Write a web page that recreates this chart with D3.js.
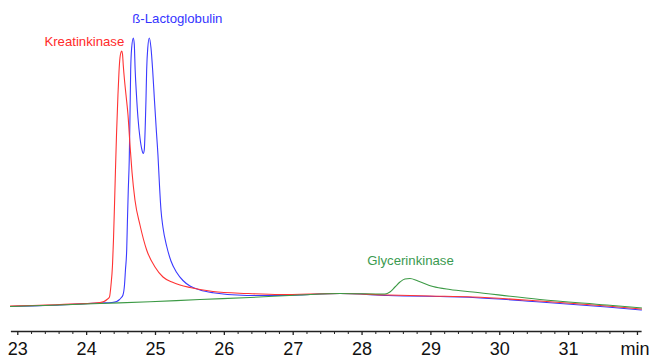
<!DOCTYPE html>
<html>
<head>
<meta charset="utf-8">
<script src="https://cdn.jsdelivr.net/npm/d3@7"></script>
<style>
  html, body { margin: 0; padding: 0; background: #fff; }
  svg { display: block; }
</style>
</head>
<body>
<svg id="chart" width="650" height="358"></svg>
<script>
// ---- data (time in min, detector signal in arbitrary units) ----
const redTime = [22.894, 23.620, 24.201, 24.259, 24.303, 24.339, 24.361, 24.383, 24.397, 24.412, 24.426, 24.441, 24.462, 24.477, 24.491, 24.516, 24.528, 24.539, 24.557, 24.579, 24.608, 24.637, 24.666, 24.709, 24.782, 24.879, 25.000, 25.116, 25.247, 25.363, 25.508, 25.842, 26.336, 26.815, 27.686, 28.383, 28.993, 29.618, 30.591, 31.564, 32.072];
const redValue = [1.6, 2.2, 3.0, 3.4, 4.2, 5.2, 10, 18, 28, 42, 56, 70, 86, 95.2, 100.8, 103.6, 102.4, 98, 92, 86, 78, 66, 55.2, 44, 34, 24, 17.2, 13.2, 11.2, 10, 9, 7.4, 6.6, 6.2, 6.6, 6.0, 5.6, 5.2, 3.6, 1.6, 0.4];

const blueTime = [22.894, 23.620, 24.201, 24.375, 24.444, 24.477, 24.506, 24.535, 24.557, 24.571, 24.589, 24.600, 24.612, 24.626, 24.637, 24.647, 24.661, 24.685, 24.699, 24.712, 24.731, 24.753, 24.782, 24.811, 24.830, 24.844, 24.859, 24.869, 24.879, 24.895, 24.917, 24.942, 24.966, 24.992, 25.019, 25.043, 25.065, 25.087, 25.116, 25.170, 25.232, 25.315, 25.406, 25.508, 25.653, 25.842, 26.336, 26.815, 27.686, 28.383, 29.618, 30.591, 31.564, 32.072];
const blueValue = [1.4, 2.0, 2.8, 3.0, 3.4, 4.0, 4.8, 6.0, 10, 16, 24, 36, 48, 60, 78, 96, 104.8, 108.8, 106.4, 96, 86, 76.8, 68.8, 64, 62.6, 64, 74, 84, 96, 104.8, 108.8, 104.8, 96, 84, 72, 62, 50, 40, 33, 25.5, 19.6, 15.0, 11.8, 9.6, 8.0, 6.9, 5.8, 5.8, 6.6, 5.8, 5.0, 3.2, 1.2, 0];

const greenTime = [22.894, 23.620, 24.201, 24.927, 25.653, 26.379, 27.105, 27.686, 28.340, 28.412, 28.485, 28.558, 28.630, 28.703, 28.819, 29.037, 29.284, 29.618, 30.591, 31.564, 32.072];
const greenValue = [1.4, 2.0, 2.6, 3.3, 4.2, 5.0, 6.0, 6.6, 6.4, 7.2, 9.2, 11.2, 12.4, 12.6, 11.6, 9.4, 8.2, 7.2, 4.2, 2.0, 0.8];

const tickValues = [23, 24, 25, 26, 27, 28, 29, 30, 31, 32];
const tickLabels = ["23", "24", "25", "26", "27", "28", "29", "30", "31", "min"];

const peakNames = ["Kreatinkinase", "ß-Lactoglobulin", "Glycerinkinase"];
const peakLabelTime = [24.554, 24.670, 28.083];
const peakLabelValue = [105.6, 114.7, 18];
const peakLabelAnchor = ["end", "start", "start"];

// ---- drawing ----
const svg = d3.select("#chart");
const x = d3.scaleLinear().domain([22.9, 32.06]).range([10.4, 641.1]);
const y = d3.scaleLinear().domain([0, 110]).range([310, 35]);
const axisY = 331;

const series = [
  { t: blueTime, v: blueValue, color: "#3a3aff" },
  { t: redTime, v: redValue, color: "#ff3333" },
  { t: greenTime, v: greenValue, color: "#3c9a45" }
];

const line = d3.line()
  .x(d => x(d[0]))
  .y(d => y(d[1]))
  .curve(d3.curveMonotoneX);

series.forEach(s => {
  svg.append("path")
    .datum(s.t.map((t, i) => [t, s.v[i]]))
    .attr("fill", "none")
    .attr("stroke", s.color)
    .attr("stroke-width", 1.1)
    .attr("stroke-linejoin", "round")
    .attr("d", line);
});

// minor ticks
const minorTicks = d3.range(23, 32.001, 0.2).filter(v => Math.abs(v - Math.round(v)) > 1e-6);
const minorAxis = d3.axisBottom(x).tickValues(minorTicks).tickSize(3).tickSizeOuter(0).tickFormat("");
const gMinor = svg.append("g").attr("transform", `translate(0,${axisY})`).call(minorAxis);
gMinor.select(".domain").remove();
gMinor.selectAll(".tick line").attr("stroke", "#222").attr("stroke-width", 1);

// major axis
const majorAxis = d3.axisBottom(x)
  .tickValues(tickValues)
  .tickSize(4)
  .tickSizeOuter(0)
  .tickPadding(7)
  .tickFormat((d, i) => tickLabels[i]);
const gAxis = svg.append("g").attr("transform", `translate(0,${axisY})`).call(majorAxis);
gAxis.select(".domain").attr("stroke", "#222").attr("stroke-width", 1.5);
gAxis.selectAll(".tick line").attr("stroke", "#222").attr("stroke-width", 1.3);
gAxis.selectAll(".tick text")
  .attr("fill", "#111")
  .style("font-family", "'Liberation Sans', Arial, sans-serif")
  .style("font-size", "18px");
// keep the unit label inside the picture
gAxis.selectAll(".tick text").filter((d, i) => i === tickValues.length - 1)
  .attr("text-anchor", "end")
  .attr("x", 649 - x(32));

// peak labels
const labelColors = ["#ff2a2a", "#3434ff", "#3b9a50"];
peakNames.forEach((name, i) => {
  svg.append("text")
    .attr("x", x(peakLabelTime[i]))
    .attr("y", y(peakLabelValue[i]))
    .attr("text-anchor", peakLabelAnchor[i])
    .attr("fill", labelColors[i])
    .style("font-family", "'Liberation Sans', Arial, sans-serif")
    .style("font-size", "13.2px")
    .text(name);
});
</script>
</body>
</html>
